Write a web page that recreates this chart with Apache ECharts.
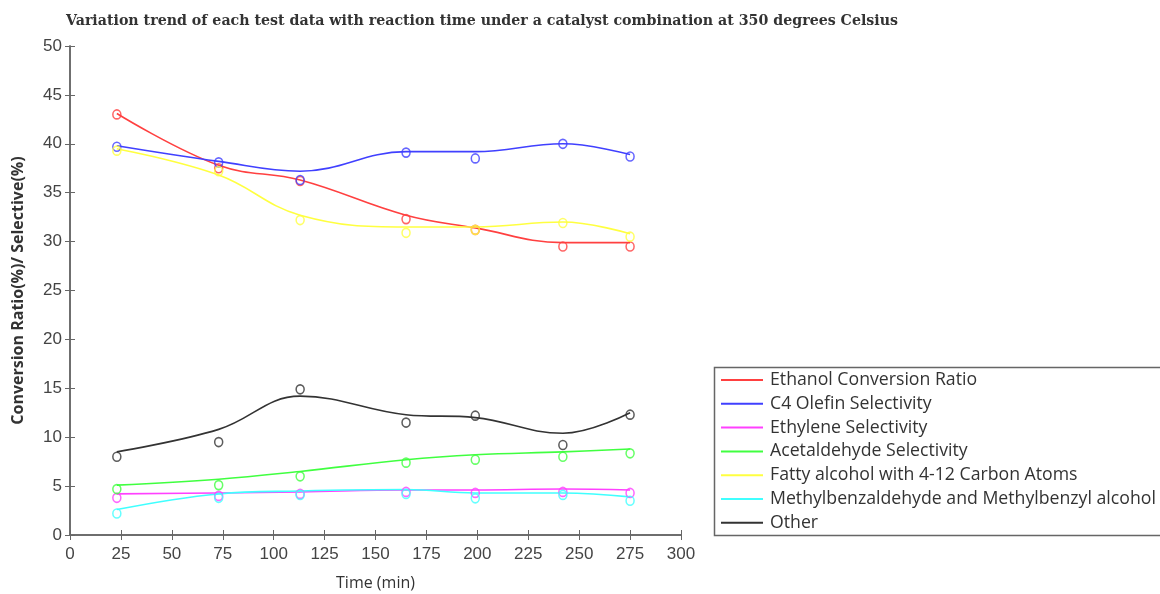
<!DOCTYPE html>
<html>
<head>
<meta charset="utf-8">
<script src="https://cdn.jsdelivr.net/npm/echarts@6/dist/echarts.min.js"></script>
<style>html,body{margin:0;padding:0;background:#fff}#c{width:1160px;height:594px}</style>
</head>
<body>
<div id="c"></div>
<script>
// Reaction times (min)
var times = [23, 73, 113, 165, 199, 242, 275];
var xTicks = [0, 25, 50, 75, 100, 125, 150, 175, 200, 225, 250, 275, 300];
var yTicks = [0, 5, 10, 15, 20, 25, 30, 35, 40, 45, 50];

var seriesNames = [
  'Ethanol Conversion Ratio',
  'C4 Olefin Selectivity',
  'Ethylene Selectivity',
  'Acetaldehyde Selectivity',
  'Fatty alcohol with 4-12 Carbon Atoms',
  'Methylbenzaldehyde and Methylbenzyl alcohol',
  'Other'
];

// Measured points (circles)
var ethanolPts  = [43.0, 37.5, 36.2, 32.3, 31.2, 29.5, 29.5];
var c4Pts       = [39.7, 38.1, 36.3, 39.1, 38.5, 40.0, 38.7];
var ethylenePts = [3.8, 4.0, 4.2, 4.4, 4.3, 4.4, 4.3];
var acetPts     = [4.7, 5.1, 6.0, 7.4, 7.7, 8.0, 8.35];
var fattyPts    = [39.3, 37.2, 32.2, 30.9, 31.2, 31.9, 30.5];
var methylPts   = [2.2, 3.8, 4.1, 4.2, 3.75, 4.1, 3.5];
var otherPts    = [8.0, 9.5, 14.9, 11.5, 12.2, 9.2, 12.3];

// Fitted trend curves (at the same times)
var ethanolFit  = [43.1, 37.8, 36.3, 32.7, 31.4, 29.9, 29.9];
var c4Fit       = [39.8, 38.2, 37.2, 39.2, 39.2, 40.0, 38.9];
var ethyleneFit = [4.2, 4.3, 4.4, 4.6, 4.6, 4.7, 4.6];
var acetFit     = [5.1, 5.7, 6.5, 7.7, 8.2, 8.5, 8.8];
var fattyFit    = [39.5, 36.8, 32.7, 31.5, 31.5, 32.0, 30.8];
var methylFit   = [2.6, 4.2, 4.5, 4.65, 4.3, 4.3, 3.9];
var otherFit    = [8.5, 10.8, 14.2, 12.3, 12.0, 10.4, 12.5];

var colors = ['#ff4040', '#4040ff', '#ff40ff', '#40ff40', '#ffff40', '#40ffff', '#333333'];
var fits = [ethanolFit, c4Fit, ethyleneFit, acetFit, fattyFit, methylFit, otherFit];
var pts = [ethanolPts, c4Pts, ethylenePts, acetPts, fattyPts, methylPts, otherPts];

function pair(xs, ys) { return xs.map(function (x, i) { return [x, ys[i]]; }); }

var series = [];
fits.forEach(function (f, i) {
  series.push({
    name: seriesNames[i], type: 'line', smooth: 0.4, symbol: 'none',
    data: pair(times, f), lineStyle: { color: colors[i], width: 1.6 },
    itemStyle: { color: colors[i] }, z: 3
  });
});
pts.forEach(function (p, i) {
  series.push({
    name: 'pts' + i, type: 'scatter', symbol: 'circle', symbolSize: [8, 9],
    data: pair(times, p),
    itemStyle: { color: 'rgba(255,255,255,0)', borderColor: colors[i], borderWidth: 1.6 }, z: 4
  });
});

var axisCol = '#666';
var tickFont = { fontFamily: 'Liberation Sans', fontSize: 17, color: '#444' };
var chart = echarts.init(document.getElementById('c'));
chart.setOption({
  animation: false,
  backgroundColor: '#fff',
  title: {
    text: 'Variation trend of each test data with reaction time under a catalyst combination at 350 degrees Celsius',
    left: 61, top: 9,
    textStyle: { fontFamily: 'DejaVu Serif', fontWeight: 'bold', fontSize: 14.2, color: '#333' }
  },
  grid: { left: 70, right: 479, top: 46, bottom: 59, outerBoundsMode: 'none', containLabel: false },
  legend: {
    orient: 'vertical', left: 716, top: 366,
    data: seriesNames, icon: 'rect', itemWidth: 42, itemHeight: 2, itemGap: 5.8,
    textStyle: { fontFamily: 'Open Sans', fontSize: 17.7, color: '#333', padding: [0, 0, 0, 2] }
  },
  graphic: [{
    type: 'rect', left: 712, top: 365, shape: { width: 470, height: 168 },
    style: { fill: 'none', stroke: '#666', lineWidth: 1.5 }, z: -1
  }],
  xAxis: [{
    type: 'value', min: 0, max: 300, interval: 25,
    name: 'Time (min)', nameLocation: 'middle', nameGap: 40,
    nameTextStyle: { fontFamily: 'Open Sans', fontSize: 16, color: '#333' },
    axisLine: { lineStyle: { color: axisCol, width: 1.5 } },
    axisTick: { inside: true, length: 5, lineStyle: { color: axisCol } },
    axisLabel: Object.assign({ margin: 11 }, tickFont),
    splitLine: { show: false }
  }, {
    type: 'value', min: 0, max: 300, interval: 25, position: 'top',
    axisLine: { lineStyle: { color: axisCol, width: 1.5 } },
    axisTick: { inside: true, length: 5, lineStyle: { color: axisCol } },
    axisLabel: { show: false }, splitLine: { show: false }
  }],
  yAxis: [{
    type: 'value', min: 0, max: 50, interval: 5,
    name: 'Conversion Ratio(%)/ Selective(%)', nameLocation: 'middle', nameGap: 44,
    nameTextStyle: { fontFamily: 'Open Sans', fontWeight: 'bold', fontSize: 16, color: '#333' },
    axisLine: { show: true, lineStyle: { color: axisCol, width: 1.5 } },
    axisTick: { show: true, inside: true, length: 5, lineStyle: { color: axisCol } },
    axisLabel: Object.assign({ margin: 8 }, tickFont),
    splitLine: { show: false }
  }, {
    type: 'value', min: 0, max: 50, interval: 5, position: 'right',
    axisLine: { show: true, lineStyle: { color: axisCol, width: 1.5 } },
    axisTick: { show: true, inside: true, length: 5, lineStyle: { color: axisCol } },
    axisLabel: { show: false }, splitLine: { show: false }
  }],
  series: series
});
</script>
</body>
</html>
